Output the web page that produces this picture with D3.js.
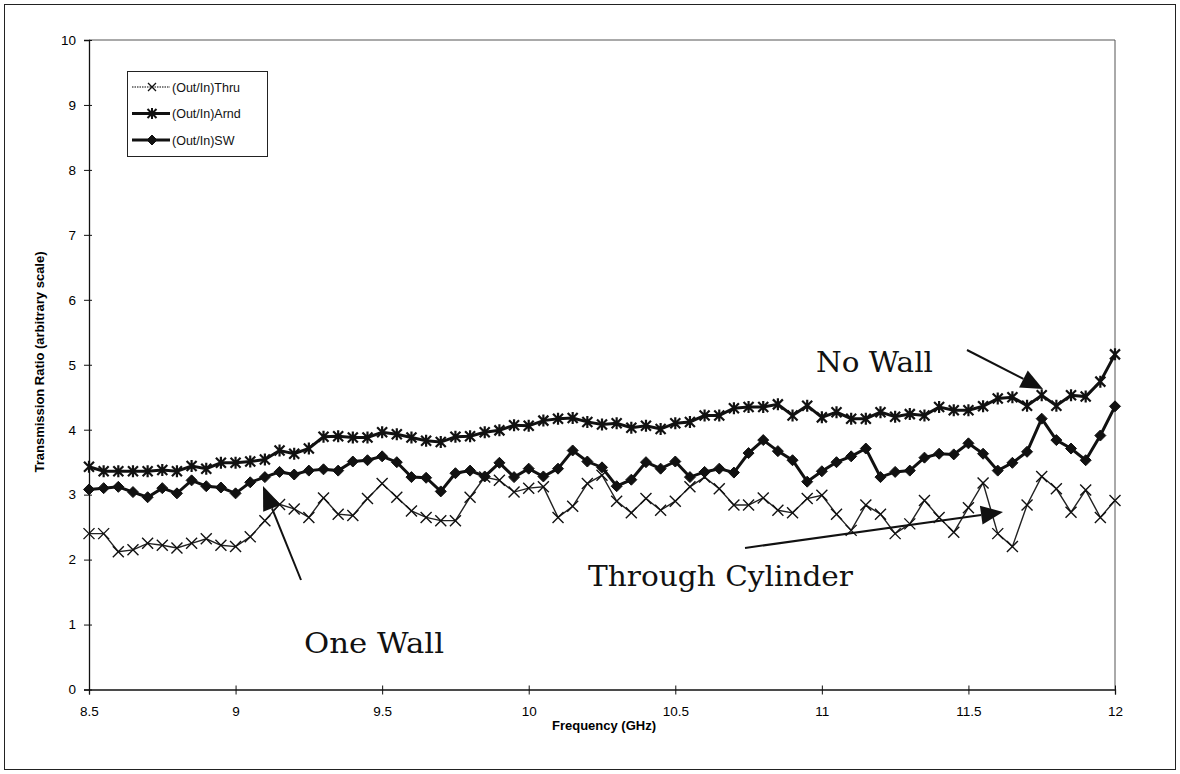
<!DOCTYPE html>
<html>
<head>
<meta charset="utf-8">
<script src="https://cdn.jsdelivr.net/npm/d3@7/dist/d3.min.js"></script>
<style>
  html, body { margin: 0; padding: 0; background: #fff; }
  svg { display: block; }
</style>
</head>
<body>
<svg id="chart" width="1180" height="774"></svg>
<script>
// Frequency sweep (GHz)
const freqs = [
  8.5, 8.55, 8.6, 8.65, 8.7, 8.75, 8.8, 8.85, 8.9, 8.95,
  9.0, 9.05, 9.1, 9.15, 9.2, 9.25, 9.3, 9.35, 9.4, 9.45,
  9.5, 9.55, 9.6, 9.65, 9.7, 9.75, 9.8, 9.85, 9.9, 9.95,
  10.0, 10.05, 10.1, 10.15, 10.2, 10.25, 10.3, 10.35, 10.4, 10.45,
  10.5, 10.55, 10.6, 10.65, 10.7, 10.75, 10.8, 10.85, 10.9, 10.95,
  11.0, 11.05, 11.1, 11.15, 11.2, 11.25, 11.3, 11.35, 11.4, 11.45,
  11.5, 11.55, 11.6, 11.65, 11.7, 11.75, 11.8, 11.85, 11.9, 11.95,
  12.0
];

// (Out/In)Thru : through the cylinder
const thru = [
  2.40, 2.40, 2.12, 2.15, 2.25, 2.22, 2.18, 2.25, 2.32, 2.22,
  2.20, 2.35, 2.60, 2.85, 2.78, 2.65, 2.95, 2.70, 2.68, 2.94,
  3.17, 2.96, 2.75, 2.65, 2.60, 2.60, 2.96, 3.27, 3.22, 3.04,
  3.10, 3.12, 2.65, 2.82, 3.17, 3.30, 2.90, 2.72, 2.94, 2.76,
  2.90, 3.12, 3.27, 3.09, 2.84, 2.84, 2.95, 2.76, 2.72, 2.94,
  2.99, 2.70, 2.45, 2.84, 2.70, 2.40, 2.55, 2.91, 2.65, 2.42,
  2.80, 3.18, 2.40, 2.20, 2.84, 3.28, 3.09, 2.73, 3.07, 2.65,
  2.91
];

// (Out/In)Arnd : no wall
const arnd = [
  3.43, 3.36, 3.36, 3.36, 3.36, 3.38, 3.36, 3.44, 3.40, 3.49,
  3.49, 3.51, 3.54, 3.68, 3.63, 3.71, 3.89, 3.90, 3.88, 3.88,
  3.96, 3.93, 3.88, 3.83, 3.81, 3.89, 3.90, 3.96, 3.99, 4.07,
  4.06, 4.14, 4.17, 4.18, 4.12, 4.08, 4.10, 4.03, 4.06, 4.01,
  4.10, 4.12, 4.22, 4.22, 4.33, 4.35, 4.35, 4.39, 4.22, 4.37,
  4.19, 4.27, 4.17, 4.17, 4.27, 4.20, 4.24, 4.22, 4.35, 4.30,
  4.30, 4.36, 4.48, 4.50, 4.37, 4.53, 4.37, 4.53, 4.51, 4.74,
  5.16
];

// (Out/In)SW : one wall
const sw = [
  3.08, 3.10, 3.12, 3.04, 2.96, 3.10, 3.02, 3.22, 3.13, 3.11,
  3.02, 3.19, 3.27, 3.35, 3.31, 3.37, 3.39, 3.37, 3.51, 3.53,
  3.59, 3.50, 3.27, 3.26, 3.05, 3.33, 3.37, 3.28, 3.49, 3.27,
  3.40, 3.28, 3.40, 3.68, 3.51, 3.42, 3.13, 3.23, 3.50, 3.40,
  3.51, 3.27, 3.35, 3.40, 3.34, 3.64, 3.84, 3.67, 3.53, 3.20,
  3.36, 3.50, 3.59, 3.71, 3.27, 3.35, 3.37, 3.57, 3.63, 3.62,
  3.79, 3.63, 3.37, 3.49, 3.66, 4.17, 3.84, 3.71, 3.53, 3.91,
  4.36
];

const xTicks = [8.5, 9, 9.5, 10, 10.5, 11, 11.5, 12];
const yTicks = [0, 1, 2, 3, 4, 5, 6, 7, 8, 9, 10];

const seriesNames = ["(Out/In)Thru", "(Out/In)Arnd", "(Out/In)SW"];

const svg = d3.select("#chart");
const sans = "'Liberation Sans', Arial, sans-serif";
const serif = "'DejaVu Serif', 'Century Schoolbook', serif";

// outer frame of the figure
svg.append("rect")
  .attr("x", 4.5).attr("y", 4.5).attr("width", 1171).attr("height", 765)
  .attr("fill", "none").attr("stroke", "#222").attr("stroke-width", 1);

const x = d3.scaleLinear().domain([8.5, 12]).range([89, 1115]);
const y = d3.scaleLinear().domain([0, 10]).range([689.5, 40]);

// plot area frame (top and right)
svg.append("path")
  .attr("d", `M${x(8.5)},${y(10)}H${x(12)}V${y(0)}`)
  .attr("fill", "none").attr("stroke", "#555").attr("stroke-width", 1);

// axes
const yAxis = svg.append("g")
  .attr("transform", `translate(${x(8.5)},0)`)
  .call(d3.axisLeft(y).tickValues(yTicks).tickSize(5).tickPadding(8).tickFormat(d3.format("d")));
yAxis.select(".domain").attr("stroke", "#111").attr("stroke-width", 1.3);
yAxis.selectAll(".tick line").attr("x2", -5).attr("x1", 3).attr("stroke", "#111");
yAxis.selectAll(".tick text")
  .attr("font-family", sans).attr("font-size", 13.5).attr("fill", "#000");

const xAxis = svg.append("g")
  .attr("transform", `translate(0,${y(0)})`)
  .call(d3.axisBottom(x).tickValues(xTicks).tickSize(5).tickPadding(12).tickFormat(d => String(d)));
xAxis.select(".domain").attr("stroke", "#111").attr("stroke-width", 1.3);
xAxis.selectAll(".tick line").attr("y1", -4).attr("y2", 5).attr("stroke", "#111");
xAxis.selectAll(".tick text")
  .attr("font-family", sans).attr("font-size", 13.5).attr("fill", "#000");

// axis titles
svg.append("text")
  .attr("x", 604).attr("y", 730)
  .attr("text-anchor", "middle")
  .attr("font-family", sans).attr("font-weight", "bold").attr("font-size", 13)
  .text("Frequency (GHz)");

svg.append("text")
  .attr("transform", "translate(44,362) rotate(-90)")
  .attr("text-anchor", "middle")
  .attr("font-family", sans).attr("font-weight", "bold").attr("font-size", 13)
  .text("Transmission Ratio (arbitrary scale)");

// marker shapes
function drawCross(g, cx, cy, r, w) {
  g.append("path")
    .attr("d", `M${cx - r},${cy - r}L${cx + r},${cy + r}M${cx - r},${cy + r}L${cx + r},${cy - r}`)
    .attr("stroke", "#111").attr("stroke-width", w).attr("fill", "none");
}
function drawStar(g, cx, cy, r, w) {
  g.append("path")
    .attr("d", `M${cx - r},${cy - r}L${cx + r},${cy + r}M${cx - r},${cy + r}L${cx + r},${cy - r}M${cx},${cy - r * 1.2}L${cx},${cy + r * 1.2}`)
    .attr("stroke", "#111").attr("stroke-width", w).attr("fill", "none");
}
function drawDiamond(g, cx, cy, r) {
  g.append("path")
    .attr("d", `M${cx},${cy - r}L${cx + r},${cy}L${cx},${cy + r}L${cx - r},${cy}Z`)
    .attr("fill", "#111").attr("stroke", "#111").attr("stroke-width", 1);
}

const line = d3.line().x((d, i) => x(freqs[i])).y(d => y(d));

// Thru: thin line with x markers
const gThru = svg.append("g");
gThru.append("path").datum(thru).attr("d", line)
  .attr("fill", "none").attr("stroke", "#222").attr("stroke-width", 1.4);
thru.forEach((v, i) => drawCross(gThru, x(freqs[i]), y(v), 5.5, 1.4));

// Arnd: heavy line with asterisk markers
const gArnd = svg.append("g");
gArnd.append("path").datum(arnd).attr("d", line)
  .attr("fill", "none").attr("stroke", "#111").attr("stroke-width", 3);
arnd.forEach((v, i) => drawStar(gArnd, x(freqs[i]), y(v), 5, 2.2));

// SW: heavy line with diamond markers
const gSW = svg.append("g");
gSW.append("path").datum(sw).attr("d", line)
  .attr("fill", "none").attr("stroke", "#111").attr("stroke-width", 3);
sw.forEach((v, i) => drawDiamond(gSW, x(freqs[i]), y(v), 5.5));

// legend
const lg = svg.append("g");
lg.append("rect").attr("x", 127.5).attr("y", 71.5).attr("width", 140).attr("height", 85)
  .attr("fill", "#fff").attr("stroke", "#222").attr("stroke-width", 1);
const rowsY = [87, 113.5, 140];
seriesNames.forEach((name, k) => {
  const ry = rowsY[k];
  if (k === 0) {
    lg.append("line").attr("x1", 132).attr("x2", 170).attr("y1", ry).attr("y2", ry)
      .attr("stroke", "#555").attr("stroke-width", 1.3).attr("stroke-dasharray", "1.5,1");
    drawCross(lg, 152, ry, 4, 1.3);
  } else if (k === 1) {
    lg.append("line").attr("x1", 132).attr("x2", 170).attr("y1", ry).attr("y2", ry)
      .attr("stroke", "#111").attr("stroke-width", 3);
    drawStar(lg, 152, ry, 4.5, 2);
  } else {
    lg.append("line").attr("x1", 132).attr("x2", 170).attr("y1", ry).attr("y2", ry)
      .attr("stroke", "#111").attr("stroke-width", 3);
    drawDiamond(lg, 152, ry, 5);
  }
  lg.append("text").attr("x", 172).attr("y", ry + 4.5)
    .attr("font-family", sans).attr("font-size", 12.5).attr("fill", "#111")
    .text(name);
});

// annotations with arrows
function arrow(x0, y0, x1, y1, headLen, headW) {
  const dx = x1 - x0, dy = y1 - y0, L = Math.hypot(dx, dy);
  const ux = dx / L, uy = dy / L;
  const bx = x1 - ux * headLen, by = y1 - uy * headLen;
  svg.append("line").attr("x1", x0).attr("y1", y0).attr("x2", bx).attr("y2", by)
    .attr("stroke", "#111").attr("stroke-width", 2);
  svg.append("path")
    .attr("d", `M${x1},${y1}L${bx - uy * headW / 2},${by + ux * headW / 2}L${bx + uy * headW / 2},${by - ux * headW / 2}Z`)
    .attr("fill", "#111");
}

const notes = [
  { text: "No Wall", x: 816, y: 372, len: 117 },
  { text: "Through Cylinder", x: 588, y: 586, len: 265 },
  { text: "One Wall", x: 304, y: 653, len: 140 }
];
notes.forEach(n => {
  svg.append("text").attr("x", n.x).attr("y", n.y)
    .attr("font-family", serif).attr("font-size", 28).attr("fill", "#111")
    .attr("textLength", n.len).attr("lengthAdjust", "spacingAndGlyphs")
    .text(n.text);
});

arrow(967, 350, 1043, 389, 22, 19);
arrow(745, 548, 1003, 512, 22, 19);
arrow(301, 580, 263, 486, 24, 19);
</script>
</body>
</html>
